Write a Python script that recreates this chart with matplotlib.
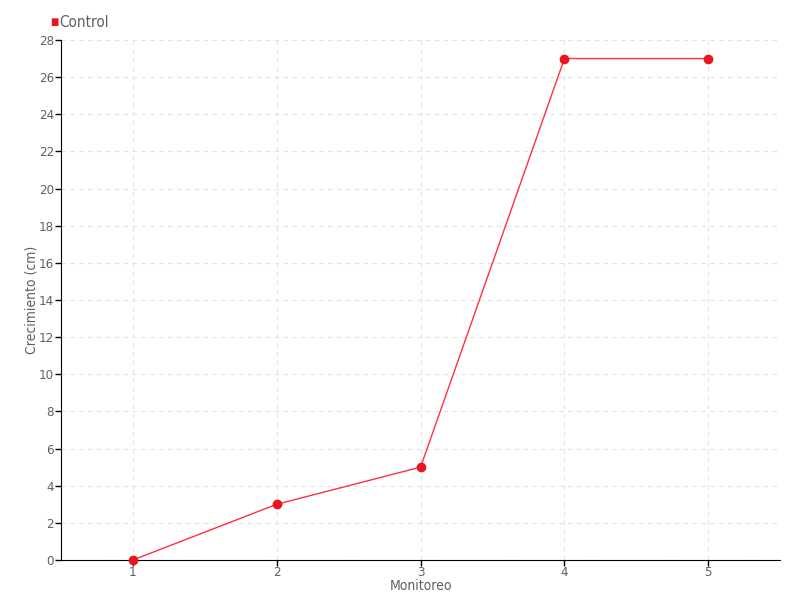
import matplotlib
matplotlib.use("Agg")
import matplotlib.pyplot as plt

# data
monitoreo = [1, 2, 3, 4, 5]
crecimiento = [0, 3, 5, 27, 27]
serie = "Control"

plt.rcParams['font.family'] = ['DejaVu Sans']
plt.rcParams['font.stretch'] = 'condensed'
gris = '#606060'

fig = plt.figure(figsize=(8, 6), dpi=100)
ax = fig.add_axes([0.07625, 0.0667, 0.899, 0.8667])

ax.plot(monitoreo, crecimiento, color='#ff3040', lw=1, zorder=3)
ax.plot(monitoreo, crecimiento, 'o', color='#e8161f', ms=6, zorder=4,
        clip_on=False, label=serie)

ax.set_xlim(0.5, 5.5)
ax.set_ylim(0, 28)
ax.set_xticks(monitoreo)
ax.set_yticks(range(0, 29, 2))

ax.grid(True, color='#e3e3e3', ls=(0, (4, 4)), lw=0.8)
ax.set_axisbelow(True)
for s in ['top', 'right']:
    ax.spines[s].set_visible(False)
ax.spines['left'].set_color('black')
ax.spines['bottom'].set_color('black')
ax.tick_params(length=4, width=1, color='black', labelcolor=gris,
               labelsize=9.5, pad=1)
ax.tick_params(axis='x', pad=0)

ax.set_xlabel('Monitoreo', color=gris, fontsize=10)
ax.set_ylabel('Crecimiento (cm)', color=gris, fontsize=10)
ax.xaxis.set_label_coords(0.5, -0.05)
ax.yaxis.set_label_coords(-0.041, 0.5)
ax.xaxis.label.set_va('center')
ax.yaxis.label.set_va('center')

# legend: small red square with label, top-left
fig.text(0.0625, 0.963, '\u25a0', color='#e8161f', fontsize=7,
         ha='left', va='center')
fig.text(0.074, 0.963, serie, color=gris, fontsize=11,
         ha='left', va='center')

fig.savefig('out.png', dpi=100)
